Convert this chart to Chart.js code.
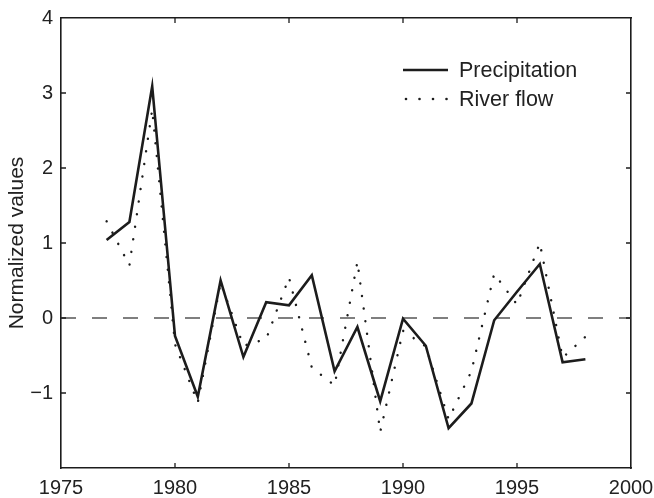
<!DOCTYPE html>
<html>
<head>
<meta charset="utf-8">
<script src="https://cdn.jsdelivr.net/npm/chart.js@4"></script>
<style>
  html, body { margin: 0; padding: 0; background: #fff; }
  #wrap { width: 654px; height: 498px; }
</style>
</head>
<body>
<div id="wrap"><canvas id="myChart" width="654" height="498"></canvas></div>
<script>
// data
const years = [1977, 1978, 1979, 1980, 1981, 1982, 1983, 1984, 1985, 1986, 1987,
  1988, 1989, 1990, 1991, 1992, 1993, 1994, 1995, 1996, 1997, 1998];
const precipitation = [1.04, 1.28, 3.09, -0.24, -1.05, 0.50, -0.52, 0.21, 0.17, 0.57, -0.71,
  -0.12, -1.11, -0.01, -0.37, -1.47, -1.14, -0.03, 0.35, 0.72, -0.59, -0.55];
const riverFlow = [1.29, 0.70, 2.78, -0.35, -1.13, 0.47, -0.37, -0.28, 0.54, -0.66, -0.90,
  0.75, -1.52, -0.17, -0.38, -1.35, -0.71, 0.59, 0.18, 1.00, -0.53, -0.25];
const baselineX = [1975, 2000];
const baselineY = [0, 0];
const xTicks = [1975, 1980, 1985, 1990, 1995, 2000];
const yTicks = [-2, -1, 0, 1, 2, 3, 4];
const seriesNames = ['Precipitation', 'River flow'];

const FONT = '"Liberation Sans", Arial, sans-serif';
const INK = '#1c1c1c';

function pts(xs, ys) {
  return xs.map(function (x, i) { return { x: x, y: ys[i] }; });
}

// inward tick marks on all four sides + the little legend
const frameTicks = {
  id: 'frameTicks',
  afterDatasetsDraw(chart) {
    const ctx = chart.ctx;
    const a = chart.chartArea;
    const xs = chart.scales.x, ys = chart.scales.y;
    ctx.save();
    ctx.strokeStyle = INK;
    ctx.lineWidth = 1.3;
    ctx.beginPath();
    xTicks.slice(1, -1).forEach(function (v) {
      const px = xs.getPixelForValue(v);
      ctx.moveTo(px, a.bottom); ctx.lineTo(px, a.bottom - 5);
      ctx.moveTo(px, a.top); ctx.lineTo(px, a.top + 5);
    });
    yTicks.slice(1, -1).forEach(function (v) {
      const py = ys.getPixelForValue(v);
      ctx.moveTo(a.left, py); ctx.lineTo(a.left + 5, py);
      ctx.moveTo(a.right, py); ctx.lineTo(a.right - 5, py);
    });
    ctx.stroke();
    ctx.restore();
  },
  afterDraw(chart) {
    const ctx = chart.ctx;
    ctx.save();
    ctx.strokeStyle = INK;
    ctx.fillStyle = INK;
    ctx.lineWidth = 2.5;
    ctx.beginPath();
    ctx.moveTo(403, 70); ctx.lineTo(448, 70);
    ctx.stroke();
    [406, 419.5, 433, 446.5].forEach(function (x) {
      ctx.beginPath(); ctx.arc(x, 99, 1.3, 0, Math.PI * 2); ctx.fill();
    });
    ctx.fillStyle = '#222';
    ctx.font = '21.5px ' + FONT;
    ctx.textBaseline = 'middle';
    ctx.fillText(seriesNames[0], 459, 71);
    ctx.fillText(seriesNames[1], 459, 100);
    ctx.restore();
  }
};

const data = {
  datasets: [
    {
      label: 'zero',
      data: pts(baselineX, baselineY),
      borderColor: '#555',
      borderWidth: 1.4,
      borderDash: [15, 16],
      pointRadius: 0,
      order: 3
    },
    {
      label: seriesNames[1],
      data: pts(years, riverFlow),
      borderColor: INK,
      borderWidth: 2.4,
      borderDash: [0.1, 12.6],
      borderCapStyle: 'round',
      pointRadius: 0,
      tension: 0,
      order: 2
    },
    {
      label: seriesNames[0],
      data: pts(years, precipitation),
      borderColor: INK,
      borderWidth: 2.6,
      borderJoinStyle: 'miter',
      pointRadius: 0,
      tension: 0,
      order: 1
    }
  ]
};

const config = {
  type: 'line',
  data: data,
  options: {
    responsive: false,
    animation: false,
    layout: { padding: { top: 18, right: 23, left: 0, bottom: 0 } },
    plugins: {
      legend: { display: false },
      tooltip: { enabled: false }
    },
    scales: {
      x: {
        type: 'linear',
        min: 1975,
        max: 2000,
        afterFit: function (s) { s.height = 30; s.paddingLeft = 0; s.paddingRight = 0; },
        afterBuildTicks: function (s) { s.ticks = xTicks.map(function (v) { return { value: v }; }); },
        grid: { display: false, drawTicks: false },
        border: { display: true, color: INK, width: 1.6 },
        ticks: {
          color: '#222',
          padding: 8,
          maxRotation: 0,
          autoSkip: false,
          font: { family: FONT, size: 20 },
          callback: function (v) { return String(v); }
        }
      },
      x2: {
        type: 'linear',
        position: 'top',
        min: 1975,
        max: 2000,
        afterFit: function (s) { s.height = 0; },
        grid: { display: false, drawTicks: false },
        border: { display: true, color: INK, width: 1.6 },
        ticks: { display: false }
      },
      y: {
        min: -2,
        max: 4,
        afterFit: function (s) { s.width = 61; s.paddingTop = 0; s.paddingBottom = 0; },
        afterBuildTicks: function (s) { s.ticks = yTicks.map(function (v) { return { value: v }; }); },
        grid: { display: false, drawTicks: false },
        border: { display: true, color: INK, width: 1.6 },
        title: {
          display: true,
          text: 'Normalized values',
          color: '#222',
          font: { family: FONT, size: 21 },
          padding: { top: 5, bottom: 0 }
        },
        ticks: {
          color: '#222',
          padding: 8,
          font: { family: FONT, size: 20 },
          callback: function (v) {
            if (v === -2) return '';
            return v < 0 ? '\u2212' + Math.abs(v) : String(v);
          }
        }
      },
      y2: {
        position: 'right',
        min: -2,
        max: 4,
        afterFit: function (s) { s.width = 0; },
        grid: { display: false, drawTicks: false },
        border: { display: true, color: INK, width: 1.6 },
        ticks: { display: false }
      }
    }
  },
  plugins: [frameTicks]
};

const myChart = new Chart(document.getElementById('myChart'), config);
</script>
</body>
</html>
